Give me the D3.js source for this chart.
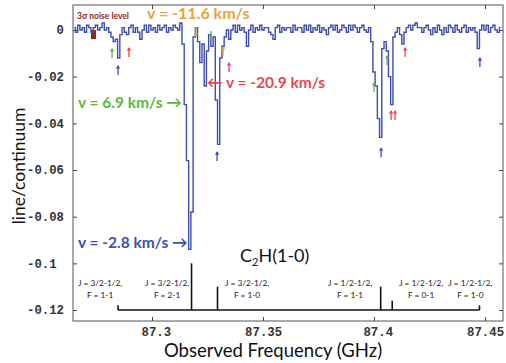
<!DOCTYPE html>
<html>
<head>
<meta charset="utf-8">
<script src="https://d3js.org/d3.v7.min.js"></script>
<style>
  body { margin: 0; background: #fff; }
  svg { display: block; }
</style>
</head>
<body>
<svg id="chart" width="506" height="363"></svg>
<script>
// spectrum: channel grid + line/continuum per channel
const freqStart = 87.265;
const chanWidth = 0.001;
const lineToCont = [
  0.001, -0.001, 0.002, 0.000, 0.001, -0.001, 0.002, 0.001, -0.001, 0.001,
  0.002, 0.000, 0.001, 0.003, 0.000, 0.001, -0.001, -0.003, -0.005, -0.004,
  -0.012, -0.002, 0.001, -0.001, -0.002, 0.001, 0.002, -0.001, 0.001, -0.001,
  -0.004, 0.000, 0.002, -0.001, 0.002, 0.000, 0.001, -0.001, 0.002, 0.000,
  0.001, 0.002, -0.001, 0.001, 0.000, 0.002, 0.001, 0.000, 0.003, -0.006,
  -0.032, -0.056, -0.094, -0.078, -0.003, 0.001, -0.005, -0.014, -0.006, -0.024,
  -0.009, -0.002, -0.007, -0.003, -0.030, -0.049, -0.012, -0.007, -0.003, 0.000,
  -0.004, 0.000, 0.002, -0.001, 0.002, 0.000, 0.001, -0.001, -0.007, 0.000,
  0.002, -0.001, 0.001, 0.000, 0.002, 0.000, 0.001, 0.001, -0.001, -0.002,
  -0.004, 0.001, 0.002, -0.001, 0.001, 0.000, 0.001, 0.001, -0.001, 0.002,
  0.000, 0.001, 0.001, -0.001, 0.002, 0.000, 0.002, -0.001, 0.001, 0.000,
  0.002, -0.001, 0.001, 0.000, -0.002, 0.001, 0.002, 0.000, 0.002, -0.001,
  0.000, 0.002, 0.001, -0.001, 0.002, 0.000, 0.002, 0.001, -0.001, 0.001,
  0.002, 0.000, -0.001, 0.001, -0.005, -0.018, -0.024, -0.038, -0.046, -0.008,
  -0.005, -0.009, -0.020, -0.032, -0.003, -0.001, 0.001, -0.002, -0.006, -0.001,
  0.001, 0.002, 0.000, 0.002, 0.003, 0.001, 0.001, -0.001, 0.001, 0.002,
  0.000, -0.002, 0.001, -0.001, 0.002, 0.000, -0.002, 0.001, -0.001, 0.002,
  0.001, -0.001, 0.002, 0.000, -0.001, 0.001, 0.002, -0.001, 0.001, 0.000,
  0.001, -0.001, -0.008, 0.000, 0.002, 0.000, 0.002, -0.001, 0.001, 0.002,
  0.000, -0.001, 0.001
];

// C2H(1-0) hyperfine stick diagram
const stickFreq = [87.2847, 87.3178, 87.3295, 87.4030, 87.4082, 87.4475];
const stickHeight = [0.0021, 0.020, 0.010, 0.010, 0.004, 0.002];
const stickBase = -0.12;
const stickLabelFreq = [87.2766, 87.3068, 87.3428, 87.3892, 87.4212, 87.4434];
const stickLabelJ = ["J = 3/2-1/2,", "J = 3/2-1/2,", "J = 3/2-1/2,", "J = 1/2-1/2,", "J = 1/2-1/2,", "J = 1/2-1/2,"];
const stickLabelF = ["F = 1-1", "F = 2-1", "F = 1-0", "F = 1-1", "F = 0-1", "F = 1-0"];

// velocity component markers: freq, tip value, direction, colour key
const markerFreq = [87.2820, 87.2847, 87.2896, 87.3198, 87.3266, 87.3320, 87.3347, 87.3293,
                    87.4000, 87.4032, 87.4059, 87.4077, 87.4095, 87.4140, 87.4477];
const markerTip  = [-0.0077, -0.0150, -0.0073, -0.0030, -0.0047, -0.0069, -0.0137, -0.0519,
                    -0.0223, -0.0502, -0.0107, -0.0343, -0.0343, -0.0073, -0.0116];
const markerDir  = ["up", "up", "up", "down", "down", "up", "up", "up",
                    "up", "up", "up", "up", "up", "up", "up"];
const markerComp = ["g", "b", "r", "o", "g", "o", "r", "b",
                    "g", "b", "g", "r", "r", "r", "b"];

const noise3Sigma = 0.0039;
const noiseFreq = [87.2725, 87.2748];

const xTicks = [87.3, 87.35, 87.4, 87.45];
const xTickLabels = ["87.3", "87.35", "87.4", "87.45"];
const yTicks = [0, -0.02, -0.04, -0.06, -0.08, -0.1, -0.12];
const yTickLabels = ["0", "-0.02", "-0.04", "-0.06", "-0.08", "-0.1 ", "-0.12"];

const compColor = { b: "#3b4fb3", g: "#5cb83a", r: "#e8474f", o: "#e8a23a" };

const width = 506, height = 363;
const margin = { top: 5, right: 3, bottom: 42, left: 73 };
const svg = d3.select("#chart");

const x = d3.scaleLinear().domain([87.2644, 87.4581]).range([margin.left, width - margin.right]);
const y = d3.scaleLinear().domain([-0.1247, 0.0107]).range([height - margin.bottom, margin.top]);

svg.append("clipPath").attr("id", "plotclip")
  .append("rect")
  .attr("x", margin.left).attr("y", margin.top)
  .attr("width", width - margin.left - margin.right)
  .attr("height", height - margin.top - margin.bottom);

// axes, ticks inside on all four sides
const tickFont = "'Liberation Mono', 'DejaVu Sans Mono', monospace";
const yAxis = d3.axisLeft(y).tickValues(yTicks).tickSizeInner(-4).tickSizeOuter(0).tickPadding(9)
  .tickFormat((d, i) => yTickLabels[i]);
const gy = svg.append("g").attr("transform", `translate(${margin.left},0)`).call(yAxis);
gy.selectAll("text").attr("xml:space", "preserve").style("white-space", "pre");

const gyR = svg.append("g").attr("transform", `translate(${width - margin.right},0)`)
  .call(d3.axisRight(y).tickValues(yTicks).tickSizeInner(-4).tickSizeOuter(0).tickFormat(""));

const xAxis = d3.axisBottom(x).tickValues(xTicks).tickSizeInner(-4).tickSizeOuter(0).tickPadding(6)
  .tickFormat((d, i) => xTickLabels[i]);
const gx = svg.append("g").attr("transform", `translate(0,${height - margin.bottom})`).call(xAxis);
gx.selectAll("text").attr("text-anchor", "end").attr("dx", 18.5);

const gxT = svg.append("g").attr("transform", `translate(0,${margin.top})`)
  .call(d3.axisTop(x).tickValues(xTicks).tickSizeInner(-4).tickSizeOuter(0).tickFormat(""));

[gy, gyR, gx, gxT].forEach(g => {
  g.select(".domain").remove();
  g.selectAll(".tick line").attr("stroke", "#444");
  g.selectAll(".tick text")
    .attr("fill", "#333")
    .style("font-family", tickFont)
    .style("font-weight", "bold")
    .style("font-size", "12.3px");
});

svg.append("rect")
  .attr("x", margin.left).attr("y", margin.top)
  .attr("width", width - margin.left - margin.right)
  .attr("height", height - margin.top - margin.bottom)
  .attr("fill", "none").attr("stroke", "#555").attr("stroke-width", 1);

const plot = svg.append("g").attr("clip-path", "url(#plotclip)");

// 3 sigma noise bar
plot.append("rect")
  .attr("x", x(noiseFreq[0])).attr("y", y(0))
  .attr("width", x(noiseFreq[1]) - x(noiseFreq[0]))
  .attr("height", y(-noise3Sigma) - y(0))
  .attr("fill", "#8c2a22");

// spectrum
const spec = lineToCont.map((v, i) => ({ f: freqStart + i * chanWidth, v }));
plot.append("path")
  .datum(spec)
  .attr("fill", "none")
  .attr("stroke", "#3d4db0")
  .attr("stroke-width", 1.4)
  .attr("d", d3.line().x(d => x(d.f)).y(d => y(d.v)).curve(d3.curveStep));

// stick diagram
plot.append("line")
  .attr("x1", x(stickFreq[0])).attr("x2", x(stickFreq[stickFreq.length - 1]))
  .attr("y1", y(stickBase)).attr("y2", y(stickBase))
  .attr("stroke", "#111").attr("stroke-width", 1.6);
plot.selectAll(".stick").data(stickFreq).join("line")
  .attr("class", "stick")
  .attr("x1", d => x(d)).attr("x2", d => x(d))
  .attr("y1", y(stickBase)).attr("y2", (d, i) => y(stickBase + stickHeight[i]))
  .attr("stroke", "#111").attr("stroke-width", 1.6);

const labFont = "Lato, 'Open Sans', sans-serif";
const stickLab = svg.selectAll(".slab").data(stickLabelFreq).join("text")
  .attr("class", "slab")
  .attr("x", d => x(d))
  .attr("text-anchor", "middle")
  .attr("fill", "#222")
  .style("font-family", labFont)
  .style("font-size", "8.3px");
stickLab.append("tspan").attr("x", d => x(d)).attr("y", 286).text((d, i) => stickLabelJ[i]);
stickLab.append("tspan").attr("x", d => x(d)).attr("y", 298).text((d, i) => stickLabelF[i]);

// velocity markers
const arrowLen = 10;
const mk = plot.selectAll(".mk").data(markerFreq).join("g").attr("class", "mk")
  .attr("transform", (d, i) => `translate(${x(d)},${y(markerTip[i])})${markerDir[i] === "down" ? " scale(1,-1)" : ""}`);
mk.append("path")
  .attr("d", `M0,1V${arrowLen}`)
  .attr("stroke", (d, i) => compColor[markerComp[i]])
  .attr("stroke-width", 1.3).attr("fill", "none");
mk.append("path")
  .attr("d", "M0,0L-2.2,3.6L2.2,3.6Z")
  .attr("fill", (d, i) => compColor[markerComp[i]]);

// annotation texts
const boldFont = "Lato, 'Open Sans', sans-serif";
function note(txt, xp, yp, col, size, weight) {
  svg.append("text").attr("x", xp).attr("y", yp).attr("fill", col)
    .style("font-family", boldFont).style("font-size", size + "px")
    .style("font-weight", weight).text(txt);
}
note("3\u03c3 noise level", 77, 19, "#8c2a22", 8.5, "bold");
note("v = -11.6 km/s", 147, 19, compColor.o, 16, "bold");
note("v = 6.9 km/s \u2192", 78, 108, compColor.g, 15.5, "bold");
note("\u2190 v = -20.9 km/s", 207, 88, compColor.r, 15.5, "bold");
note("v = -2.8 km/s \u2192", 78, 248, compColor.b, 15.5, "bold");

// molecule label
const mol = svg.append("text").attr("x", 240).attr("y", 262).attr("fill", "#111")
  .style("font-family", labFont).style("font-size", "18px");
mol.append("tspan").text("C");
mol.append("tspan").attr("dy", 4).style("font-size", "11px").text("2");
mol.append("tspan").attr("dy", -4).text("H(1-0)");

// axis titles
svg.append("text")
  .attr("x", 273).attr("y", 357)
  .attr("text-anchor", "middle").attr("fill", "#111")
  .style("font-family", labFont).style("font-size", "18.5px")
  .text("Observed Frequency (GHz)");
svg.append("text")
  .attr("transform", "translate(25,166) rotate(-90)")
  .attr("text-anchor", "middle").attr("fill", "#111")
  .style("font-family", labFont).style("font-size", "17.5px")
  .text("line/continuum");
</script>
</body>
</html>
